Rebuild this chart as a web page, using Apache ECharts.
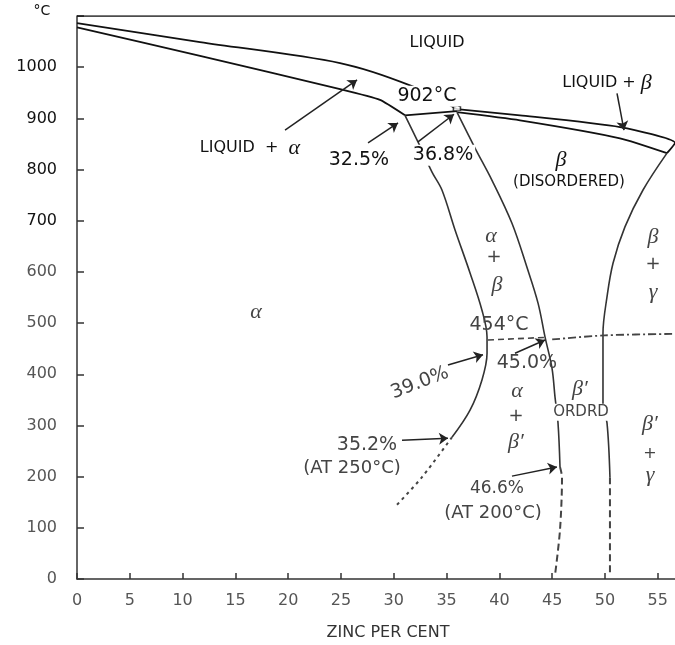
<!DOCTYPE html>
<html><head><meta charset="utf-8">
<script src="https://cdn.jsdelivr.net/npm/echarts@6/dist/echarts.min.js"></script>
<style>html,body{margin:0;padding:0;background:#fff}#c{width:675px;height:645px}</style>
</head><body><div id="c"></div>
<script>
// ---- data (wt% Zn, °C) ----
const xTickLabels = ['0','5','10','15','20','25','30','35','40','45','50','55'];
const yTickLabels = ['0','100','200','300','400','500','600','700','800','900','1000'];
const liquidusAlpha = [[0,1086],[11.65,1049],[24.91,1008],[31.72,963],[35.98,918]];
const solidusAlpha  = [[0,1078],[11.65,1022],[24.91,957],[28.69,936],[31.06,906]];
const peritectic    = [[31.06,906],[35.98,914]];
const liquidusBeta  = [[35.98,918],[41.95,906],[51.42,883],[56.63,852],[55.87,832]];
const solidusBeta   = [[35.98,912],[41.95,896],[51.42,861],[55.87,832]];
const alphaSolvus   = [[31.06,906],[32.29,854],[33.62,795],[34.56,760],[35.80,682],[37.22,598],[38.35,525],[38.83,473],[38.83,441],[38.35,389],[37.22,330],[35.51,277]];
const alphaSolvusLow= [[35.51,277],[32.67,199],[30.30,145]];
const betaLeft      = [[35.98,912],[37.69,842],[39.30,779],[41.19,695],[42.61,609],[43.66,539],[44.32,473],[44.98,412],[45.27,355],[45.55,305],[45.74,219]];
const betaLeftLow   = [[45.74,219],[45.93,199],[45.74,96],[45.27,8]];
const betaRight     = [[55.87,832],[53.60,760],[51.89,688],[50.76,617],[50.19,551],[49.81,480],[49.81,336],[50.19,305],[50.47,199]];
const betaRightLow  = [[50.47,199],[50.47,12]];
const orderLeft     = [[38.92,467],[44.32,472]];
const orderRight    = [[45.0,468],[50.0,476],[56.63,479]];
const liquidPoint   = [[35.98,919]];
const arrows = [
  [[19.70,877],[26.52,975]],
  [[27.56,852],[30.40,891]],
  [[32.29,854],[35.70,908]],
  [[51.14,949],[51.80,877]],
  [[35.13,418],[38.45,438]],
  [[41.48,441],[44.32,467]],
  [[30.78,271],[35.13,275]],
  [[41.19,201],[45.45,219]]
];
const annotations = [
  {text:'LIQUID', at:[34.09,1047], size:16},
  {text:'902°C', at:[33.14,943], size:19, bg:true},
  {text:'LIQUID + {g|β}', at:[50.19,969], size:16},
  {text:'LIQUID  +  {g|α}', at:[16.38,842], size:16},
  {text:'32.5%', at:[26.70,818], size:19},
  {text:'36.8%', at:[34.66,828], size:19, bg:true},
  {text:'{g|β}', at:[45.83,818]},
  {text:'(DISORDERED)', at:[46.59,775], size:15},
  {text:'{g|α}', at:[39.20,670]},
  {text:'+', at:[39.49,629], size:18},
  {text:'{g|β}', at:[39.77,574]},
  {text:'{g|β}', at:[54.55,668]},
  {text:'+', at:[54.55,615], size:18},
  {text:'{g|γ}', at:[54.55,560]},
  {text:'{g|α}', at:[16.95,521]},
  {text:'454°C', at:[39.96,496], size:19},
  {text:'45.0%', at:[42.61,422], size:19},
  {text:'39.0%', at:[32.48,383], size:19, rot:21},
  {text:'{g|α}', at:[41.67,367]},
  {text:'+', at:[41.57,318], size:18},
  {text:'{g|β′}', at:[41.57,268]},
  {text:'{g|β′}', at:[47.63,371]},
  {text:'ORDRD', at:[47.73,326], size:15, bg:true},
  {text:'{g|β′}', at:[54.26,303]},
  {text:'+', at:[54.26,244], size:16},
  {text:'{g|γ}', at:[54.26,203]},
  {text:'35.2%', at:[27.46,262], size:19},
  {text:'(AT 250°C)', at:[26.04,217], size:18},
  {text:'46.6%', at:[39.77,176], size:17},
  {text:'(AT 200°C)', at:[39.39,129], size:18}
];

const chart = echarts.init(document.getElementById('c'), null, {renderer:'canvas'});
const FONT = '"DejaVu Sans", sans-serif';
function ln(data, color, width, type, smooth) {
  return {type:'line', data, showSymbol:false, smooth: smooth || false, silent:true,
    lineStyle:{color, width, type: type || 'solid'}, z:3};
}
chart.setOption({
  animation:false,
  backgroundColor:'#fff',
  grid:{left:77, right:0, top:16, bottom:66},
  xAxis:{type:'value', min:0, max:56.63, interval:5,
    axisLine:{lineStyle:{color:'#333', width:1.5}},
    axisTick:{inside:true, length:6, lineStyle:{color:'#333', width:1.5}},
    axisLabel:{margin:14, fontFamily:FONT, fontSize:16, color:'#555', showMaxLabel:false,
      formatter:(v)=> xTickLabels[Math.round(v/5)] ?? ''},
    splitLine:{show:false}},
  yAxis:{type:'value', min:0, max:1100, interval:100,
    axisLine:{show:true, lineStyle:{color:'#333', width:1.5}},
    axisTick:{show:true, inside:true, length:7, lineStyle:{color:'#333', width:1.5}},
    axisLabel:{margin:20, fontFamily:FONT, fontSize:16,
      color:(v)=> (Number(v) >= 700 ? '#111' : '#555'),
      formatter:(v)=> yTickLabels[Math.round(v/100)] ?? ''},
    splitLine:{show:false}},
  series:[
    ln([[0,1100],[56.63,1100]], '#111', 1.5),
    ln(liquidusAlpha, '#111', 1.8, 'solid', 0.3),
    ln(solidusAlpha, '#111', 1.8, 'solid', 0.15),
    ln(peritectic, '#111', 1.8),
    ln(liquidusBeta, '#111', 1.8, 'solid', 0.2),
    ln(solidusBeta, '#111', 1.8, 'solid', 0.2),
    ln(alphaSolvus, '#333', 1.6, 'solid', 0.35),
    ln(alphaSolvusLow, '#444', 2, [3,4], 0.3),
    ln(betaLeft, '#333', 1.6, 'solid', 0.35),
    ln(betaLeftLow, '#444', 2, [7,4], 0.3),
    ln(betaRight, '#333', 1.6, 'solid', 0.35),
    ln(betaRightLow, '#444', 2, [7,4]),
    ln(orderLeft, '#444', 1.6, [6,4]),
    ln(orderRight, '#444', 1.8, [8,3,2,3], 0.3),
    {type:'scatter', data:liquidPoint, symbol:'rect', symbolSize:[7,4], silent:true, z:5,
      itemStyle:{color:'#fff', borderColor:'#111', borderWidth:1.2}},
    {type:'lines', coordinateSystem:'cartesian2d', silent:true, z:4,
      symbol:['none','arrow'], symbolSize:9,
      lineStyle:{color:'#222', width:1.5, opacity:1},
      data: arrows.map(a => ({coords:a}))}
  ]
});

const graphics = annotations.map(a => {
  const p = chart.convertToPixel({gridIndex:0}, a.at);
  const col = a.at[1] > 700 ? '#111' : '#444';
  const el = {type:'text', x:p[0], y:p[1], z:100, silent:true,
    rotation: a.rot ? a.rot*Math.PI/180 : 0,
    style:{text:a.text, fill:col, fontFamily:FONT, fontSize:a.size || 16,
      align:'center', verticalAlign:'middle',
      rich:{g:{fontFamily:'"Liberation Serif", serif', fontStyle:'italic', fontSize:22, fill:col}}}};
  if (a.bg) { el.style.backgroundColor = '#fff'; el.style.padding = [1,2]; }
  return el;
});
graphics.push({type:'text', x:42, y:11, z:100, style:{text:'°C', fill:'#111', fontFamily:FONT, fontSize:14, align:'center', verticalAlign:'middle'}});
graphics.push({type:'text', x:388, y:633, z:100, style:{text:'ZINC PER CENT', fill:'#333', fontFamily:FONT, fontSize:16, align:'center', verticalAlign:'middle'}});
chart.setOption({graphic: graphics});
</script>
</body></html>
